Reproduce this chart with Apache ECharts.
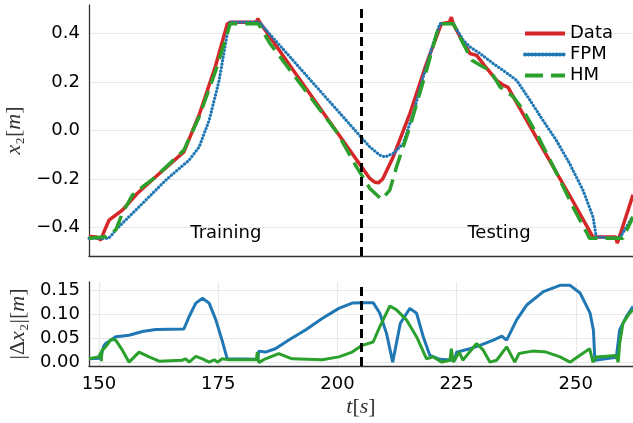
<!DOCTYPE html>
<html>
<head>
<meta charset="utf-8">
<script src="https://cdn.jsdelivr.net/npm/echarts@6/dist/echarts.min.js"></script>
<style>
html,body{margin:0;padding:0;background:#fff;}
#chart{width:633px;height:423px;}
</style>
</head>
<body>
<div id="chart"></div>
<script>
// ---- Data ----
// Top panel: position x2 [m] vs t [s]
var dataT = [147.9,149.5,150.4,151.0,152.1,154.9,158.0,161.9,167.8,171.1,174.4,176.9,177.5,183.0,183.3,183.7,190.0,200.0,206.8,207.8,208.6,209.5,211.7,215.2,218.7,221.8,223.5,223.9,224.3,225.7,227.8,229.2,231.0,233.4,234.8,235.8,236.9,242.5,249.4,253.6,258.4,258.7,259.3,262.0];
var dataX = [-0.437,-0.44,-0.452,-0.42,-0.37,-0.329,-0.26,-0.191,-0.088,0.07,0.264,0.44,0.447,0.447,0.462,0.447,0.269,-0.009,-0.198,-0.213,-0.216,-0.2,-0.109,0.07,0.277,0.441,0.447,0.468,0.44,0.388,0.318,0.31,0.265,0.207,0.187,0.178,0.139,-0.055,-0.292,-0.44,-0.44,-0.465,-0.43,-0.265];

var fpmT = [147.9,152.0,152.7,153.5,158.4,164.0,168.9,171.0,173.1,175.2,176.9,177.5,183.6,206.8,208.9,210.0,211.7,213.8,215.9,218.0,220.1,221.5,224.3,226.4,227.8,229.9,232.7,234.7,237.6,240.4,243.1,245.9,248.7,251.5,253.6,254.3,259.2,261.9];
var fpmX = [-0.445,-0.445,-0.43,-0.41,-0.315,-0.205,-0.122,-0.068,0.042,0.207,0.4,0.447,0.447,-0.068,-0.102,-0.109,-0.095,-0.054,0.07,0.221,0.359,0.441,0.441,0.372,0.345,0.318,0.276,0.249,0.207,0.125,0.042,-0.04,-0.136,-0.246,-0.356,-0.439,-0.445,-0.356];

var hmT = [147.9,151.3,153.5,154.9,157.0,159.1,161.9,167.8,171.0,174.5,176.9,177.5,183.4,185.9,200.0,204.0,206.8,209.3,211.0,212.4,215.2,218.7,220.8,221.8,224.3,226.4,228.2,230.6,232.0,234.1,236.9,239.0,242.5,246.0,249.4,252.9,259.9,262.0];
var hmX = [-0.445,-0.439,-0.411,-0.342,-0.267,-0.233,-0.191,-0.081,0.056,0.249,0.4,0.441,0.441,0.358,-0.01,-0.15,-0.239,-0.285,-0.246,-0.15,0.015,0.249,0.4,0.441,0.441,0.358,0.29,0.262,0.249,0.18,0.139,0.084,-0.04,-0.177,-0.315,-0.445,-0.445,-0.356];

// Bottom panel: absolute error |dx2| [m]
var errFpmT = [147.9,150.3,151.0,151.4,153.5,156.3,159.1,161.9,167.8,168.9,170.3,171.7,173.1,174.5,175.8,176.9,177.3,183.3,183.5,183.7,184.9,187.0,189.8,193.3,196.8,200.3,203.1,205.2,207.5,208.9,210.3,211.6,213.2,215.2,216.6,218.0,219.4,221.5,224.6,225.0,227.8,229.9,232.7,234.5,235.5,237.6,239.7,243.2,246.7,248.8,250.9,253.0,253.7,254.0,254.3,258.5,259.2,260.6,262.0];
var errFpm = [0.008,0.009,0.035,0.04,0.054,0.057,0.065,0.069,0.07,0.096,0.124,0.134,0.124,0.089,0.047,0.008,0.007,0.007,0.024,0.02,0.022,0.029,0.047,0.068,0.092,0.113,0.124,0.125,0.125,0.103,0.061,0.001,0.082,0.113,0.103,0.054,0.015,0.007,0.005,0.022,0.029,0.036,0.047,0.055,0.047,0.089,0.12,0.148,0.161,0.161,0.145,0.103,0.068,0.005,0.009,0.011,0.068,0.096,0.117];

var errHmT = [147.9,149.9,150.2,150.4,150.5,150.6,151.4,152.5,153.5,154.9,156.3,158.4,160.5,162.6,167.4,168.2,168.9,170.3,171.7,173.1,174.2,174.9,175.8,177.2,183.0,183.2,183.5,184.9,187.7,190.5,196.8,200.3,203.1,205.2,207.5,208.9,211.0,212.4,214.5,216.6,218.7,220.1,221.9,223.6,223.9,224.3,225.6,226.3,229.2,230.6,232.0,233.4,235.5,237.2,238.1,240.9,243.8,246.7,248.8,250.8,252.9,253.6,254.3,258.4,258.9,259.2,259.9,261.3,262.0];
var errHm = [0.008,0.012,0.01,0.022,0.003,0.025,0.033,0.048,0.047,0.026,0.001,0.022,0.012,0.003,0.005,0.008,0.001,0.013,0.008,0.001,0.006,0.001,0.008,0.006,0.006,0.022,0.0,0.008,0.019,0.008,0.006,0.012,0.022,0.036,0.043,0.075,0.118,0.11,0.089,0.054,0.008,0.012,0.001,0.005,0.029,0.001,0.022,0.005,0.04,0.026,0.001,0.005,0.033,0.001,0.019,0.024,0.022,0.012,0.001,0.015,0.029,0.001,0.012,0.015,0.001,0.04,0.082,0.103,0.11];

var seriesNames = ['Data', 'FPM', 'HM'];
var splitTime = 205;
var phaseLabels = [{name: 'Training', t: 176.6, x: -0.424}, {name: 'Testing', t: 233.9, x: -0.424}];

var xMin = 147.9, xMax = 262, xStep = 25;
var yTopMin = -0.518, yTopMax = 0.518, yTopStep = 0.2;
var yBotMin = -0.007, yBotMax = 0.168, yBotStep = 0.05;

// ---- build ----
function pairs(t, v) { return t.map(function (x, i) { return [x, v[i]]; }); }
function isMultiple(v, s) { var q = v / s; return Math.abs(q - Math.round(q)) < 1e-6; }

var RED = '#d62728', BLUE = '#1f77b4', GREEN = '#2ca02c';
var FONT = 'DejaVu Sans';
var SERIF = 'Liberation Serif';
var gridColor = '#e8e8e8';
var axisColor = '#333';

function richName(sz) {
  return {
    i: {fontFamily: SERIF, fontStyle: 'italic', fontSize: sz, color: '#333'},
    n: {fontFamily: SERIF, fontStyle: 'normal', fontSize: sz, color: '#333'}
  };
}

var chart = echarts.init(document.getElementById('chart'), null, {renderer: 'canvas'});

var option = {
  animation: false,
  backgroundColor: '#fff',
  textStyle: {fontFamily: FONT},
  grid: [
    {left: 89, top: 5, width: 544, height: 251, containLabel: false, outerBoundsMode: 'none'},
    {left: 89, top: 282, width: 544, height: 84, containLabel: false, outerBoundsMode: 'none'}
  ],
  legend: {
    data: seriesNames,
    orient: 'vertical',
    left: 523, top: 23, padding: 0,
    itemWidth: 40, itemHeight: 14, itemGap: 0,
    itemStyle: {opacity: 0},
    lineStyle: {width: 4},
    textStyle: {fontFamily: FONT, fontSize: 18, color: '#000', lineHeight: 21},
    selectedMode: false
  },
  xAxis: [
    {
      gridIndex: 0, type: 'value', min: xMin, max: xMax, minInterval: xStep, maxInterval: xStep,
      axisLabel: {show: false}, axisTick: {show: false}, splitLine: {show: false},
      axisLine: {onZero: false, lineStyle: {color: axisColor, width: 1.3}}
    },
    {
      gridIndex: 1, type: 'value', min: xMin, max: xMax, minInterval: xStep, maxInterval: xStep,
      axisLabel: {
        fontFamily: FONT, fontSize: 18, color: '#000', margin: 9,
        formatter: function (v) { return isMultiple(v, xStep) ? String(Math.round(v)) : ''; }
      },
      axisTick: {show: false},
      splitLine: {show: true, showMinLine: false, showMaxLine: false, lineStyle: {color: gridColor, width: 1.2}},
      axisLine: {onZero: false, lineStyle: {color: axisColor, width: 1.3}},
      name: '{i|t}{n|[}{i|s}{n|]}',
      nameLocation: 'middle', nameGap: 30,
      nameTextStyle: {fontFamily: SERIF, fontSize: 22, color: '#333', rich: richName(22)}
    }
  ],
  yAxis: [
    {
      gridIndex: 0, type: 'value', min: yTopMin, max: yTopMax, minInterval: yTopStep, maxInterval: yTopStep,
      axisLabel: {
        fontFamily: FONT, fontSize: 18, color: '#000', margin: 9,
        formatter: function (v) {
          if (!isMultiple(v, yTopStep)) return '';
          var s = Math.abs(v).toFixed(1);
          return v < -1e-9 ? '\u2212' + s : s;
        }
      },
      axisTick: {show: false},
      splitLine: {show: true, showMinLine: false, showMaxLine: false, lineStyle: {color: gridColor, width: 1.2}},
      axisLine: {show: true, onZero: false, lineStyle: {color: axisColor, width: 1.3}},
      name: '{i|x}{n|\u2082[}{i|m}{n|]}',
      nameLocation: 'middle', nameGap: 60, nameRotate: 90,
      nameTextStyle: {fontFamily: SERIF, fontSize: 22, color: '#333', rich: richName(22)}
    },
    {
      gridIndex: 1, type: 'value', min: yBotMin, max: yBotMax, minInterval: yBotStep, maxInterval: yBotStep,
      axisLabel: {
        fontFamily: FONT, fontSize: 18, color: '#000', margin: 9,
        formatter: function (v) { return isMultiple(v, yBotStep) ? Math.abs(v).toFixed(2) : ''; }
      },
      axisTick: {show: false},
      splitLine: {show: true, showMinLine: false, showMaxLine: false, lineStyle: {color: gridColor, width: 1.2}},
      axisLine: {show: true, onZero: false, lineStyle: {color: axisColor, width: 1.3}},
      name: '{n||\u0394}{i|x}{n|\u2082|[}{i|m}{n|]}',
      nameLocation: 'middle', nameGap: 59, nameRotate: 90,
      nameTextStyle: {fontFamily: SERIF, fontSize: 22, color: '#333', rich: richName(22)}
    }
  ],
  series: [
    {
      name: seriesNames[0], type: 'line', xAxisIndex: 0, yAxisIndex: 0,
      data: pairs(dataT, dataX), showSymbol: false, symbol: 'none', smooth: false,
      lineStyle: {color: RED, width: 3.5}, itemStyle: {color: RED}, z: 2,
      markPoint: {
        silent: true, symbol: 'rect', symbolSize: 1, itemStyle: {color: 'rgba(0,0,0,0)'},
        label: {show: true, position: 'inside', formatter: '{b}', fontFamily: FONT, fontSize: 18, color: '#000'},
        data: phaseLabels.map(function (p) { return {name: p.name, coord: [p.t, p.x]}; })
      }
    },
    {
      name: seriesNames[1], type: 'line', xAxisIndex: 0, yAxisIndex: 0,
      data: pairs(fpmT, fpmX), showSymbol: false, symbol: 'none',
      lineStyle: {color: BLUE, width: 3.2, type: [0.1, 3.4], cap: 'round'}, itemStyle: {color: BLUE}, z: 3
    },
    {
      name: seriesNames[2], type: 'line', xAxisIndex: 0, yAxisIndex: 0,
      data: pairs(hmT, hmX), showSymbol: false, symbol: 'none',
      lineStyle: {color: GREEN, width: 3.5, type: [18, 8]}, itemStyle: {color: GREEN}, z: 4,
      markLine: {
        silent: true, symbol: 'none', label: {show: false},
        lineStyle: {color: '#000', width: 3, type: [9, 5]},
        data: [{xAxis: splitTime}]
      }
    },
    {
      name: 'err FPM', type: 'line', xAxisIndex: 1, yAxisIndex: 1,
      data: pairs(errFpmT, errFpm), showSymbol: false, symbol: 'none',
      lineStyle: {color: BLUE, width: 3}, itemStyle: {color: BLUE}, z: 2
    },
    {
      name: 'err HM', type: 'line', xAxisIndex: 1, yAxisIndex: 1,
      data: pairs(errHmT, errHm), showSymbol: false, symbol: 'none',
      lineStyle: {color: GREEN, width: 3}, itemStyle: {color: GREEN}, z: 3,
      markLine: {
        silent: true, symbol: 'none', label: {show: false},
        lineStyle: {color: '#000', width: 3, type: [9, 5]},
        data: [{xAxis: splitTime}]
      }
    }
  ]
};
chart.setOption(option);
</script>
</body>
</html>
